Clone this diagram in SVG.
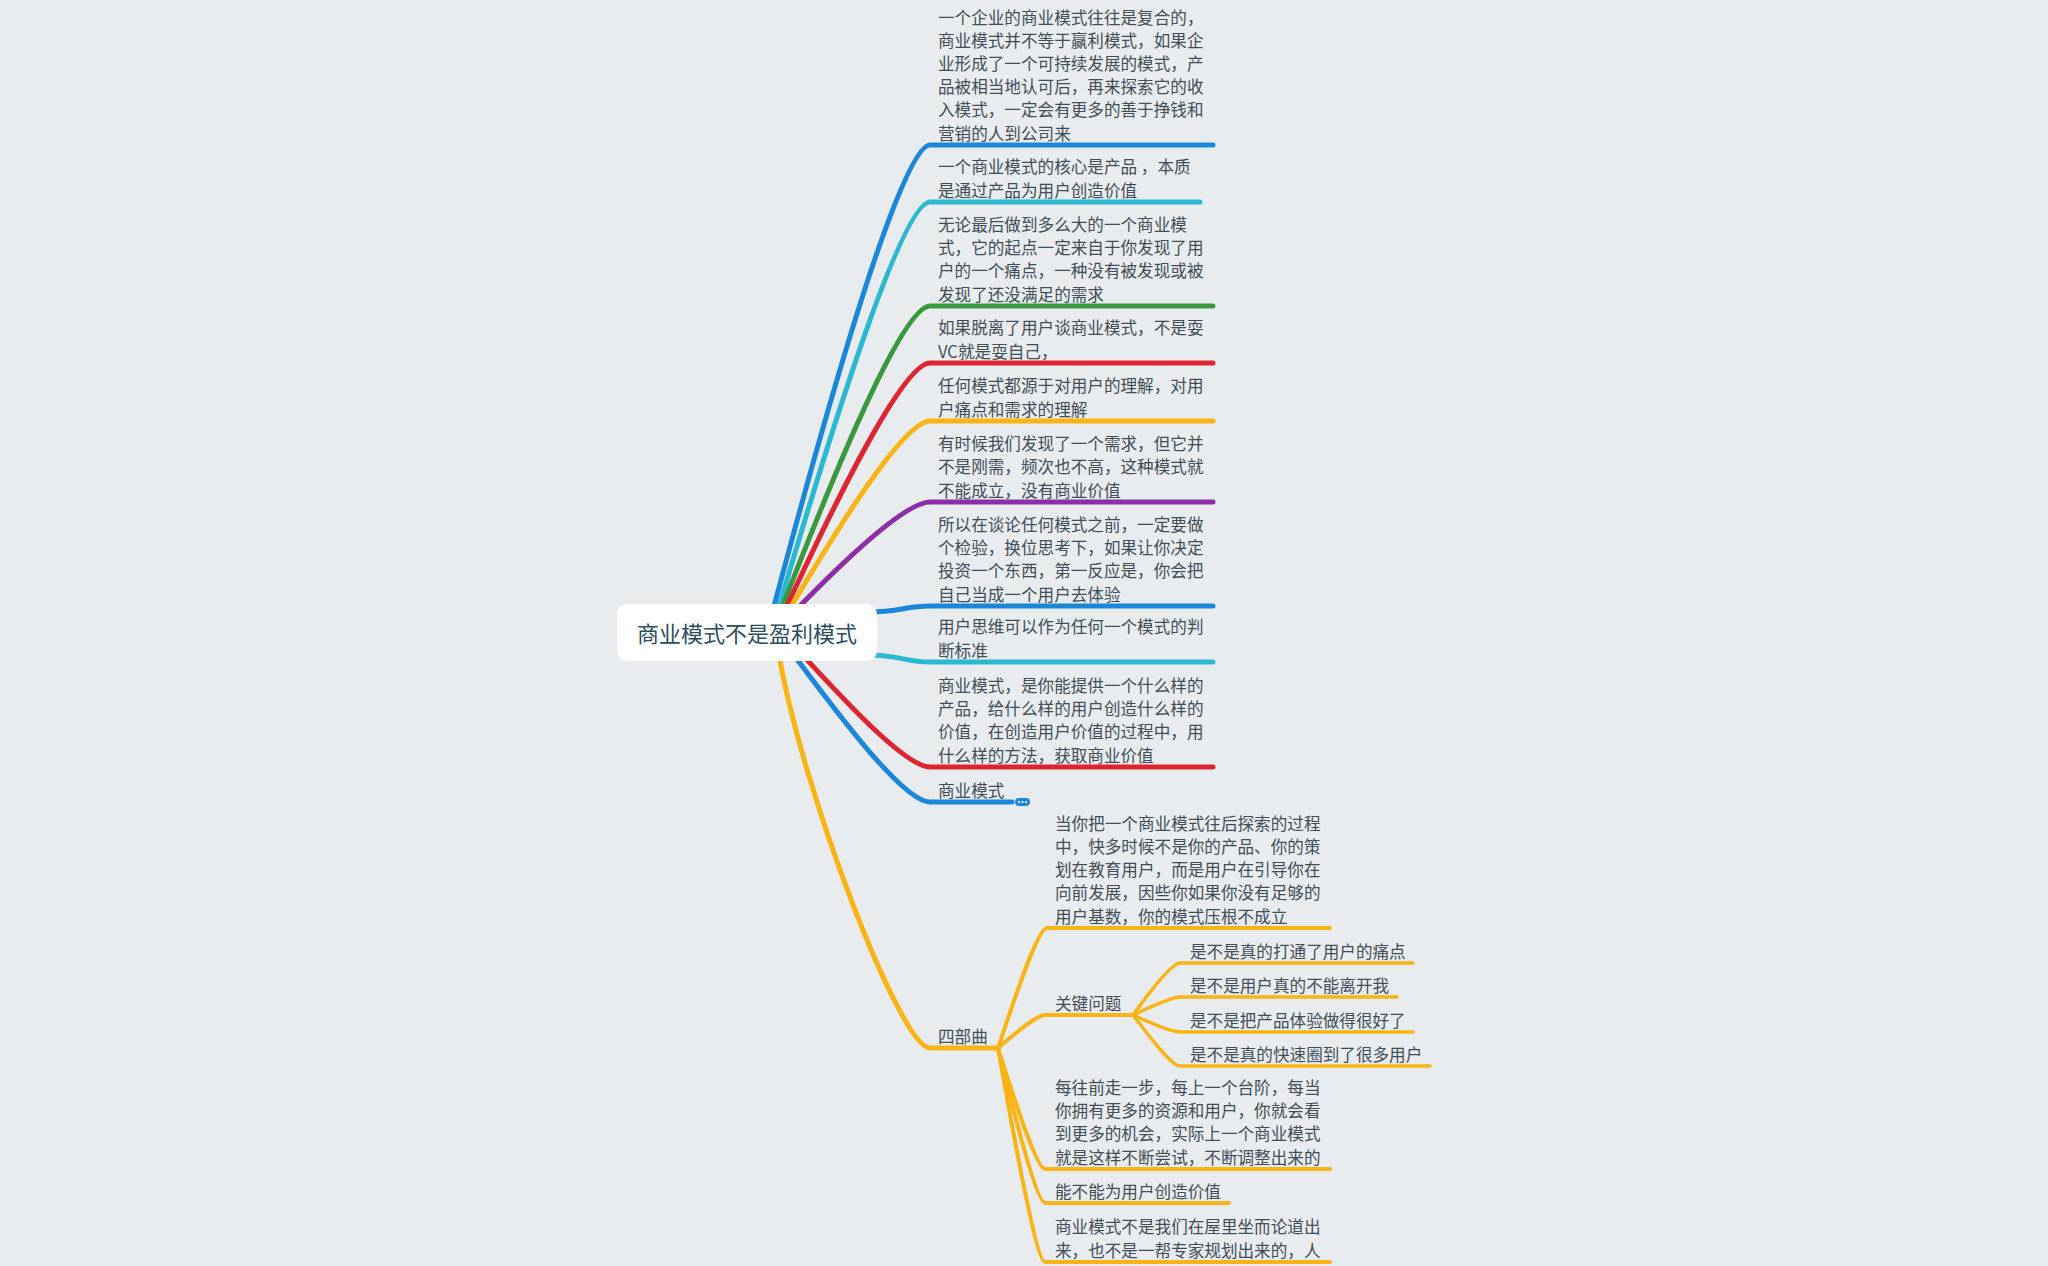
<svg xmlns="http://www.w3.org/2000/svg" width="2048" height="1266" viewBox="0 0 2048 1266">
<style>
.t{font-family:"Noto Sans CJK SC","Noto Sans",sans-serif;font-size:16.6px;fill:#414d57}
.root{font-family:"Noto Sans CJK SC","Noto Sans",sans-serif;font-size:22px;fill:#2e4c5d}
.c{fill:none;stroke-linecap:round;stroke-linejoin:round}
.l1{stroke-width:5}
.l2{stroke-width:4}
.l3{stroke-width:3.5}
.blue{stroke:#1b87da}
.cyan{stroke:#2bb9d2}
.green{stroke:#3a993f}
.red{stroke:#de2430}
.yellow{stroke:#fbb415}
.purple{stroke:#8c2ea6}
</style>
<rect width="2048" height="1266" fill="#e9ecef"/>
<g id="connectors">
<path class="c l1 blue" d="M773 610 C815 452 899 145 930 145 L1213 145"/>
<path class="c l1 cyan" d="M778 610 C819 471 900 202 930 202 L1200 202"/>
<path class="c l1 green" d="M781 610 C821 507 900 306 930 306 L1213 306"/>
<path class="c l1 red" d="M785 610 C824 526 901 363 930 363 L1213 363"/>
<path class="c l1 yellow" d="M789 610 C827 546 902 421 930 421 L1213 421"/>
<path class="c l1 purple" d="M796 610 C832 573 903 502 930 502 L1213 502"/>
<path class="c l1 blue" d="M868 612 C900 612 905 606 930 606 L1213 606"/>
<path class="c l1 cyan" d="M868 655 C900 655 905 662 930 662 L1213 662"/>
<path class="c l1 red" d="M798 650 C835 690 904 767 930 767 L1213 767"/>
<path class="c l1 blue" d="M790 650 C829 702 902 802 930 802 L1012 802"/>
<path class="c l1 yellow" d="M779 655 C802 789 900 1048 930 1048 L998 1048"/>
<path class="c l2 yellow" d="M998 1048 C1012 1007 1037 928 1047 928 L1330 928"/>
<path class="c l2 yellow" d="M998 1048 C1011 1037 1036 1015 1045 1015 L1133 1015"/>
<path class="c l2 yellow" d="M998 1048 C1011 1089 1036 1169 1045 1169 L1330 1169"/>
<path class="c l2 yellow" d="M998 1048 C1011 1101 1036 1203 1045 1203 L1229 1203"/>
<path class="c l2 yellow" d="M998 1048 C1011 1121 1036 1262 1045 1262 L1330 1262"/>
<path class="c l3 yellow" d="M1133 1015 C1146 997 1171 963 1180 963 L1413 963"/>
<path class="c l3 yellow" d="M1133 1015 C1146 1009 1171 997 1180 997 L1397 997"/>
<path class="c l3 yellow" d="M1133 1015 C1146 1021 1171 1032 1180 1032 L1413 1032"/>
<path class="c l3 yellow" d="M1133 1015 C1146 1032 1171 1066 1180 1066 L1430 1066"/>
</g>
<g id="root">
<rect x="617" y="604" width="260" height="57" rx="10" fill="#ffffff"/>
<text class="root" x="747" y="642" text-anchor="middle">商业模式不是盈利模式</text>
</g>
<g id="n1"><text class="t"><tspan x="938" y="24">一个企业的商业模式往往是复合的，</tspan><tspan x="938" y="47.1">商业模式并不等于赢利模式，如果企</tspan><tspan x="938" y="70.2">业形成了一个可持续发展的模式，产</tspan><tspan x="938" y="93.3">品被相当地认可后，再来探索它的收</tspan><tspan x="938" y="116.4">入模式，一定会有更多的善于挣钱和</tspan><tspan x="938" y="139.5">营销的人到公司来</tspan></text></g>
<g id="n2"><text class="t"><tspan x="938" y="173.4">一个商业模式的核心是产品 ，本质</tspan><tspan x="938" y="196.5">是通过产品为用户创造价值</tspan></text></g>
<g id="n3"><text class="t"><tspan x="938" y="231.2">无论最后做到多么大的一个商业模</tspan><tspan x="938" y="254.3">式，它的起点一定来自于你发现了用</tspan><tspan x="938" y="277.4">户的一个痛点，一种没有被发现或被</tspan><tspan x="938" y="300.5">发现了还没满足的需求</tspan></text></g>
<g id="n4"><text class="t"><tspan x="938" y="334.4">如果脱离了用户谈商业模式，不是耍</tspan><tspan x="938" y="357.5">VC就是耍自己，</tspan></text></g>
<g id="n5"><text class="t"><tspan x="938" y="392.4">任何模式都源于对用户的理解，对用</tspan><tspan x="938" y="415.5">户痛点和需求的理解</tspan></text></g>
<g id="n6"><text class="t"><tspan x="938" y="450.3">有时候我们发现了一个需求，但它并</tspan><tspan x="938" y="473.4">不是刚需，频次也不高，这种模式就</tspan><tspan x="938" y="496.5">不能成立，没有商业价值</tspan></text></g>
<g id="n7"><text class="t"><tspan x="938" y="531.2">所以在谈论任何模式之前，一定要做</tspan><tspan x="938" y="554.3">个检验，换位思考下，如果让你决定</tspan><tspan x="938" y="577.4">投资一个东西，第一反应是，你会把</tspan><tspan x="938" y="600.5">自己当成一个用户去体验</tspan></text></g>
<g id="n8"><text class="t"><tspan x="938" y="633.4">用户思维可以作为任何一个模式的判</tspan><tspan x="938" y="656.5">断标准</tspan></text></g>
<g id="n9"><text class="t"><tspan x="938" y="692.2">商业模式，是你能提供一个什么样的</tspan><tspan x="938" y="715.3">产品，给什么样的用户创造什么样的</tspan><tspan x="938" y="738.4">价值，在创造用户价值的过程中，用</tspan><tspan x="938" y="761.5">什么样的方法，获取商业价值</tspan></text></g>
<g id="n10"><text class="t" x="938" y="796.5">商业模式</text>
<rect x="1015" y="798" width="15" height="8" rx="4" fill="#1b87da"/>
<circle cx="1019" cy="802" r="1.1" fill="#ffffff"/><circle cx="1022.5" cy="802" r="1.1" fill="#ffffff"/><circle cx="1026" cy="802" r="1.1" fill="#ffffff"/></g>
<g id="n11"><text class="t" x="938" y="1042.5">四部曲</text></g>
<g id="n11a"><text class="t"><tspan x="1055" y="830.1">当你把一个商业模式往后探索的过程</tspan><tspan x="1055" y="853.2">中，快多时候不是你的产品、你的策</tspan><tspan x="1055" y="876.3">划在教育用户，而是用户在引导你在</tspan><tspan x="1055" y="899.4">向前发展，因些你如果你没有足够的</tspan><tspan x="1055" y="922.5">用户基数，你的模式压根不成立</tspan></text></g>
<g id="n11b"><text class="t" x="1055" y="1009.5">关键问题</text></g>
<g id="n11b1"><text class="t" x="1190" y="957.5">是不是真的打通了用户的痛点</text></g>
<g id="n11b2"><text class="t" x="1190" y="991.5">是不是用户真的不能离开我</text></g>
<g id="n11b3"><text class="t" x="1190" y="1026.5">是不是把产品体验做得很好了</text></g>
<g id="n11b4"><text class="t" x="1190" y="1060.5">是不是真的快速圈到了很多用户</text></g>
<g id="n11c"><text class="t"><tspan x="1055" y="1094.2">每往前走一步，每上一个台阶，每当</tspan><tspan x="1055" y="1117.3">你拥有更多的资源和用户，你就会看</tspan><tspan x="1055" y="1140.4">到更多的机会，实际上一个商业模式</tspan><tspan x="1055" y="1163.5">就是这样不断尝试，不断调整出来的</tspan></text></g>
<g id="n11d"><text class="t" x="1055" y="1197.5">能不能为用户创造价值</text></g>
<g id="n11e"><text class="t"><tspan x="1055" y="1233.4">商业模式不是我们在屋里坐而论道出</tspan><tspan x="1055" y="1256.5">来，也不是一帮专家规划出来的，人</tspan></text></g>
</svg>
